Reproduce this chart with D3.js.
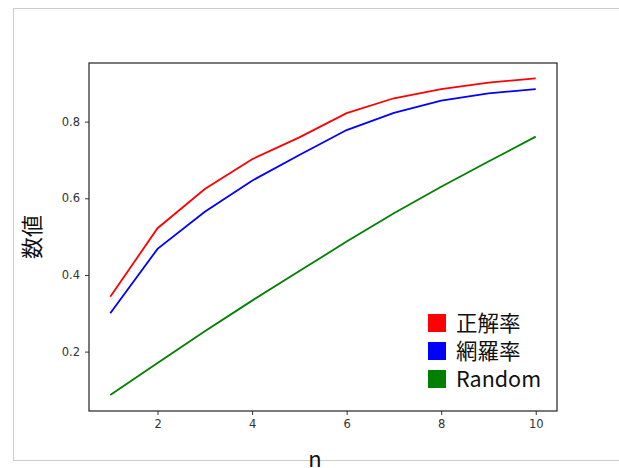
<!DOCTYPE html>
<html>
<head>
<meta charset="utf-8">
<script src="https://cdn.jsdelivr.net/npm/d3@7"></script>
<style>
  body { margin: 0; background: #fff; }
</style>
</head>
<body>
<div id="vis"></div>
<script>
// data
var nValues = [1, 2, 3, 4, 5, 6, 7, 8, 9, 10];
var accuracy = [0.343, 0.522, 0.624, 0.702, 0.759, 0.822, 0.861, 0.885, 0.902, 0.913];
var recall   = [0.300, 0.468, 0.565, 0.646, 0.713, 0.778, 0.823, 0.855, 0.874, 0.885];
var random   = [0.087, 0.170, 0.253, 0.333, 0.410, 0.487, 0.561, 0.630, 0.696, 0.761];
var xTicks = [2, 4, 6, 8, 10];
var yTicks = [0.2, 0.4, 0.6, 0.8];
var seriesNames = ["正解率", "網羅率", "Random"];
var seriesColors = ["#ff0000", "#0000ff", "#008000"];

var outer_width = 619;
var outer_height = 468;
var margin = {top: 63, right: 62, bottom: 57, left: 89};
var width = outer_width - margin.left - margin.right;
var height = outer_height - margin.top - margin.bottom;

var root = d3.select("#vis")
  .append("svg")
  .attr("width", outer_width)
  .attr("height", outer_height);

// grey frame of the figure
root.append("rect")
  .attr("x", 13.5)
  .attr("y", 8.5)
  .attr("width", 640)
  .attr("height", 452)
  .style("fill", "none")
  .style("stroke", "#cccccc");

var svg = root.append("g")
  .attr("transform", "translate(" + margin.left + "," + margin.top + ")");

var xScale = d3.scaleLinear()
  .domain([0.55, 10.45])
  .range([0, width]);

var yScale = d3.scaleLinear()
  .domain([0.045, 0.953])
  .range([height, 0]);

function styleAxis(g){
  g.select(".domain").remove();
  g.selectAll(".tick line").style("stroke", "#333");
  g.selectAll(".tick text")
    .style("font-family", "'DejaVu Sans', sans-serif")
    .style("font-size", "11.5px")
    .style("fill", "#333");
}

//X
svg.append("g")
  .attr("transform", "translate(0," + height + ")")
  .call(d3.axisBottom(xScale).tickValues(xTicks).tickFormat(d3.format("d")).tickSize(4).tickPadding(5))
  .call(styleAxis);

//Y
svg.append("g")
  .call(d3.axisLeft(yScale).tickValues(yTicks).tickFormat(d3.format(".1f")).tickSize(4).tickPadding(5))
  .call(styleAxis);

// lines
var series = [accuracy, recall, random];
var line = d3.line()
  .x(function(d, i){ return xScale(nValues[i]); })
  .y(function(d){ return yScale(d); });

series.forEach(function(values, k){
  svg.append("path")
    .datum(values)
    .attr("d", line)
    .style("fill", "none")
    .style("stroke", seriesColors[k])
    .style("stroke-width", 1.8);
});

// axes box
svg.append("rect")
  .attr("x", 0)
  .attr("y", 0)
  .attr("width", width)
  .attr("height", height)
  .style("fill", "none")
  .style("stroke", "#222")
  .style("stroke-width", 1.2);

// legend
var legend = svg.append("g")
  .attr("transform", "translate(" + (428 - margin.left) + "," + (314 - margin.top) + ")");

seriesNames.forEach(function(name, k){
  legend.append("rect")
    .attr("x", 0)
    .attr("y", k * 28)
    .attr("width", 18)
    .attr("height", 18)
    .style("fill", seriesColors[k]);
  legend.append("text")
    .attr("x", 28)
    .attr("y", k * 28 + 9)
    .attr("dy", "0.36em")
    .style("font-family", "'Noto Sans CJK JP', sans-serif")
    .style("font-size", "21.5px")
    .style("fill", "#111")
    .text(name);
});

// axis labels
root.append("text")
  .attr("x", 315)
  .attr("y", 467)
  .style("text-anchor", "middle")
  .style("font-family", "'Noto Sans CJK JP', sans-serif")
  .style("font-size", "22px")
  .style("fill", "#111")
  .text("n");

root.append("text")
  .attr("transform", "translate(40,237) rotate(-90)")
  .style("text-anchor", "middle")
  .style("font-family", "'Noto Sans CJK JP', sans-serif")
  .style("font-size", "22px")
  .style("fill", "#111")
  .text("数値");
</script>
</body>
</html>
